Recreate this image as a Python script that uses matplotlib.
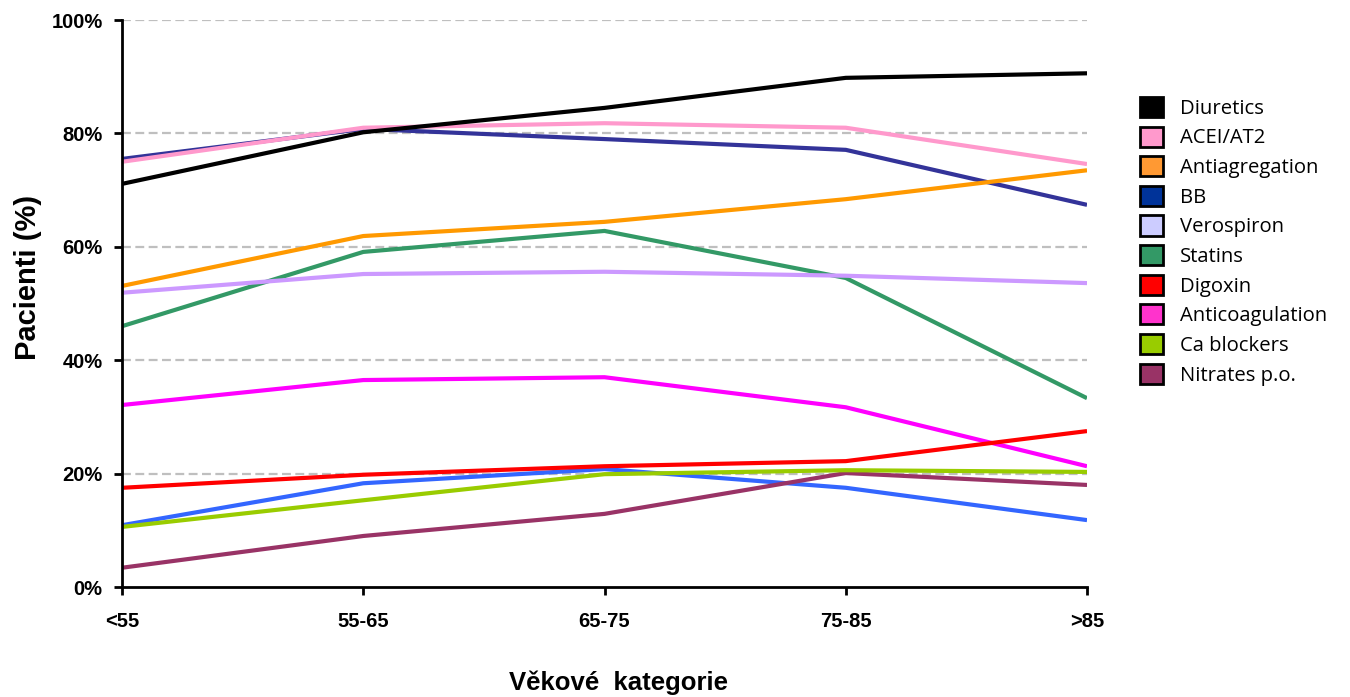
import matplotlib
matplotlib.use("Agg")
import matplotlib.pyplot as plt
from matplotlib.patches import Patch
from matplotlib.ticker import FuncFormatter

categories = ["<55", "55-65", "65-75", "75-85", ">85"]

diuretics = [71.1, 80.2, 84.5, 89.8, 90.6]
acei_at2 = [75.0, 81.0, 81.8, 81.0, 74.6]
antiagregation = [53.1, 61.9, 64.4, 68.4, 73.5]
bb = [75.5, 80.8, 79.0, 77.1, 67.4]
verospiron = [51.9, 55.2, 55.6, 54.9, 53.6]
statins = [46.0, 59.1, 62.8, 54.5, 33.3]
digoxin = [17.5, 19.8, 21.3, 22.2, 27.5]
anticoagulation = [32.1, 36.5, 37.0, 31.7, 21.3]
other_blue = [10.9, 18.3, 20.8, 17.5, 11.8]
ca_blockers = [10.6, 15.3, 19.9, 20.6, 20.3]
nitrates = [3.4, 9.0, 12.9, 20.1, 18.0]

series_names = ["Diuretics", "ACEI/AT2", "Antiagregation", "BB", "Verospiron",
                "Statins", "Digoxin", "Anticoagulation", "Ca blockers", "Nitrates p.o."]
series_values = [diuretics, acei_at2, antiagregation, bb, verospiron,
                 statins, digoxin, anticoagulation, ca_blockers, nitrates]
line_colors = ["#000000", "#ff99cc", "#ff9900", "#333399", "#cc99ff",
               "#339966", "#ff0000", "#ff00ff", "#99cc00", "#993366"]
legend_colors = ["#000000", "#ff99cc", "#ff9933", "#003399", "#ccccff",
                 "#339966", "#ff0000", "#ff33cc", "#99cc00", "#993366"]

fig = plt.figure(figsize=(13.5, 6.97), dpi=100)
ax = fig.add_axes([0.0904, 0.1578, 0.7148, 0.8135])

x = list(range(len(categories)))
ax.plot(x, other_blue, color="#3366ff", lw=3.0, solid_capstyle="butt", zorder=3)
for vals, col in zip(series_values[::-1], line_colors[::-1]):
    ax.plot(x, vals, color=col, lw=3.0, solid_capstyle="butt", zorder=3)

ax.set_xlim(0, len(categories) - 1)
ax.set_ylim(0, 100)
ax.set_yticks([0, 20, 40, 60, 80, 100])
ax.yaxis.set_major_formatter(FuncFormatter(lambda v, p: f"{int(v)}%"))
ax.set_xticks(x)
ax.set_xticklabels(categories)

for yv in [20, 40, 60, 80, 100]:
    ax.axhline(yv, color="#bfbfbf", lw=1.6, ls=(0, (4, 2)), zorder=1)

for s in ["top", "right"]:
    ax.spines[s].set_visible(False)
for s in ["left", "bottom"]:
    ax.spines[s].set_linewidth(2)
    ax.spines[s].set_zorder(4)

ax.tick_params(axis="both", width=2, length=6, direction="out")
ax.tick_params(axis="x", pad=12)
ax.tick_params(axis="y", pad=8)
for lab in ax.get_xticklabels() + ax.get_yticklabels():
    lab.set_fontfamily("Liberation Sans")
    lab.set_fontweight("bold")
    lab.set_fontsize(14.5)

fig.text(0.4585, 0.02, "Věkové  kategorie", fontfamily="Liberation Sans",
         fontweight="bold", fontsize=18.5, ha="center", va="center")
fig.text(0.021, 0.602, "Pacienti (%)", fontfamily="Liberation Sans",
         fontweight="bold", fontsize=21, ha="center", va="center", rotation=90)

handles = [Patch(facecolor=c, edgecolor="black", linewidth=2) for c in legend_colors]
leg = fig.legend(handles, series_names, loc="upper left",
                 bbox_to_anchor=(0.8445, 0.861), frameon=False,
                 prop=dict(family="Open Sans", size=14.6),
                 handlelength=1.15, handleheight=1.15, handletextpad=0.8,
                 labelspacing=0.38, borderpad=0, borderaxespad=0)

fig.savefig("out.png", dpi=100)
